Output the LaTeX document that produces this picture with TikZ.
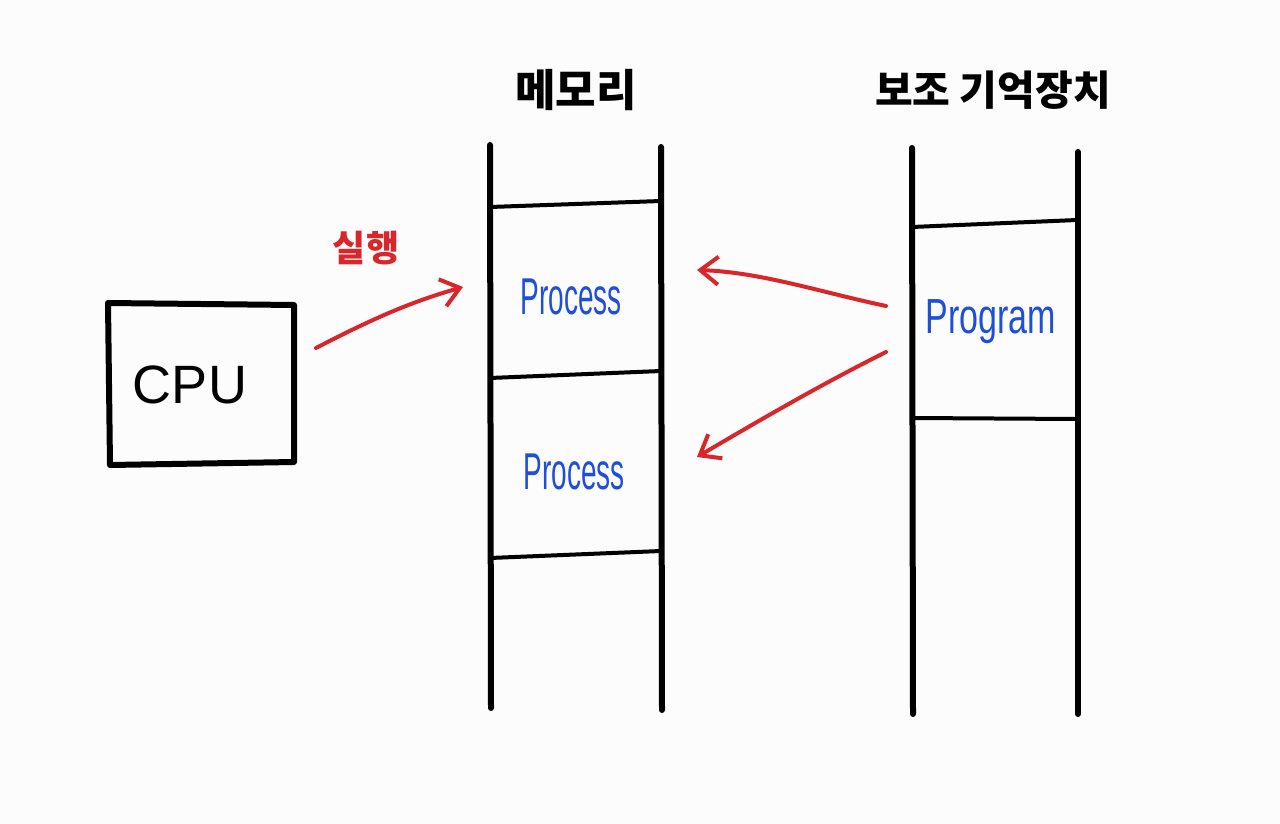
\documentclass[tikz,border=0pt]{standalone}
\usepackage{fontspec}
\setmainfont{Liberation Sans}
\newfontfamily\krfont{Noto Sans CJK KR}
\usetikzlibrary{arrows.meta}
\definecolor{bgc}{HTML}{FCFCFC}
\definecolor{redc}{HTML}{D8262A}
\definecolor{bluec}{HTML}{1F4FD8}
\tikzset{
  wall/.style={line width=3pt, line cap=round, black},
  shelf/.style={line width=2pt, line cap=round, black},
  flow/.style={line width=2pt, redc, line cap=round, -{Straight Barb[length=9pt,width=14pt,line width=2pt]}},
  title/.style={font=\krfont\bfseries\fontsize{22}{24}\selectfont, inner sep=0pt},
  hand/.style={text=bluec, inner sep=0pt},
}
\begin{document}
\begin{tikzpicture}[x=0.5pt,y=-0.5pt]
\useasboundingbox[fill=bgc] (0,0) rectangle (1280,824);
% titles
\node[title] (memt) at (576,90) {메모리};
\node[title, font=\krfont\bfseries\fontsize{20.5}{24}\selectfont] (stot) at (993,90) {보조 기억장치};
% memory column
\draw[wall] (490,145) -- (491,708);
\draw[wall] (661,147) -- (662,710);
\draw[shelf] (490,207) -- (661,201);
\draw[shelf] (490,378) -- (661,371);
\draw[shelf] (490,558) -- (661,551);
% storage column
\draw[wall] (912,148) -- (913,714);
\draw[wall] (1078,152) -- (1078,714);
\draw[shelf] (912,227) -- (1077,220);
\draw[shelf] (912,418) -- (1077,419);
% CPU
\draw[line width=3pt, line join=round] (108,303) -- (294,305) -- (294,462) -- (110,465) -- cycle;
\node[font=\fontsize{27}{30}\selectfont, inner sep=0pt] (cpu) at (190,385) {CPU};
\coordinate (cpuout) at (316,348);
% labels
\node[hand] (proc1) at (571,297) {\fontsize{14}{16}\selectfont\scalebox{1}[1.85]{Process}};
\node[hand] (proc2) at (574,472) {\fontsize{14}{16}\selectfont\scalebox{1}[1.85]{Process}};
\node[hand] (prog) at (991,322) {\fontsize{17}{19}\selectfont\scalebox{1}[1.45]{Program}};
\node[text=redc, font=\krfont\bfseries\fontsize{18}{20}\selectfont, inner sep=0pt] (run) at (366,248) {실행};
% arrow anchors
\coordinate (memin) at (463,287);
\coordinate (progout1) at (886,306);
\coordinate (progout2) at (886,352);
\coordinate (proc1in) at (697,270);
\coordinate (proc2in) at (697,457);
% arrows
\draw[flow] (cpuout) .. controls (370,320) and (410,302) .. (memin);
\draw[flow] (progout1) .. controls (820,292) and (760,272) .. (proc1in);
\draw[flow] (progout2) .. controls (820,385) and (760,420) .. (proc2in);
\end{tikzpicture}
\end{document}
